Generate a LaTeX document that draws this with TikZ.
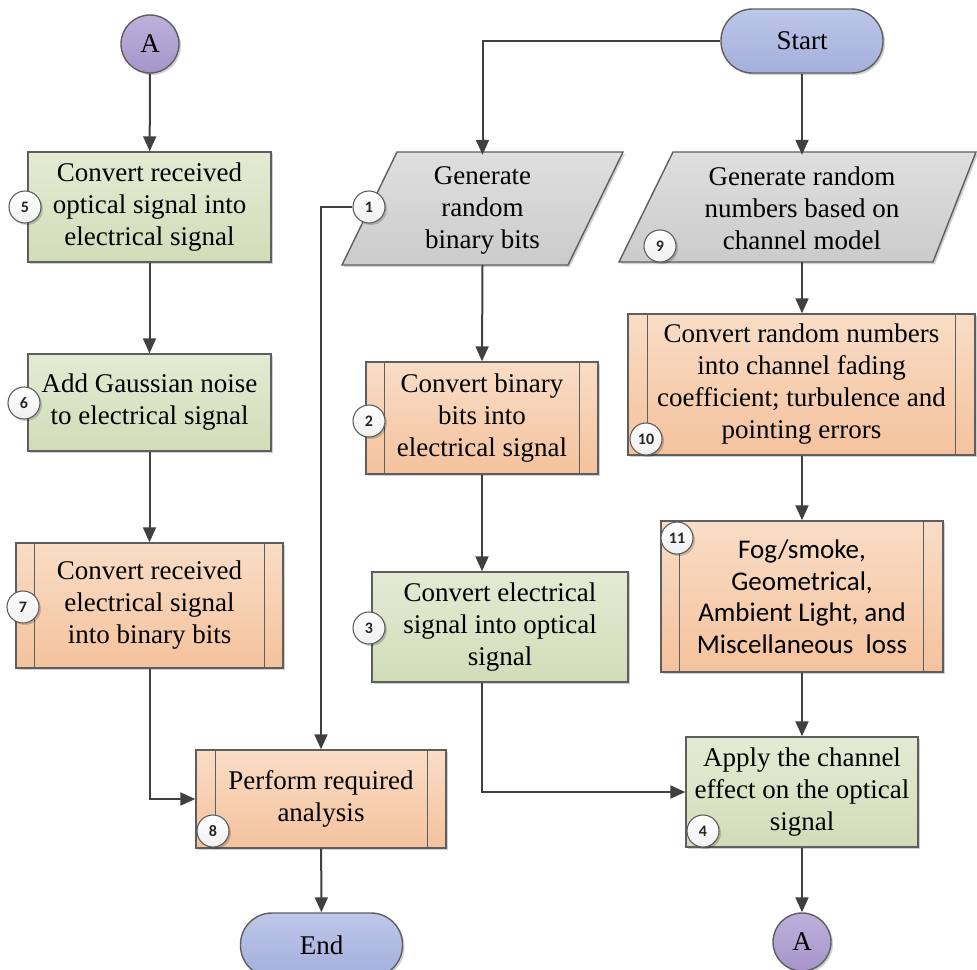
\documentclass[tikz,border=0pt]{standalone}
\usepackage{fontspec}
\setmainfont{Liberation Serif}
\newfontfamily\calfont{Carlito}
\usetikzlibrary{arrows.meta,shadows,calc}
\definecolor{edge}{HTML}{5E5E5E}
\definecolor{conn}{HTML}{404040}
\definecolor{gtop}{HTML}{E5EAD4}
\definecolor{gbot}{HTML}{D2DCB8}
\definecolor{otop}{HTML}{F9DDC6}
\definecolor{obot}{HTML}{F4C29D}
\definecolor{ytop}{HTML}{DFDFDF}
\definecolor{ybot}{HTML}{CBCBCB}
\definecolor{btop}{HTML}{BDC7E9}
\definecolor{bbot}{HTML}{A4AFDC}
\definecolor{ptop}{HTML}{BDB1DB}
\definecolor{pbot}{HTML}{A695CA}
\tikzset{
  shad/.style={drop shadow={shadow xshift=2pt,shadow yshift=-2pt,fill=black,opacity=0.18}},
  txt/.style={font=\fontsize{27}{32}\selectfont, align=center, inner sep=0pt},
  greenbox/.style={txt, rectangle, draw=edge, line width=1.4pt, top color=gtop, bottom color=gbot, shad},
  orangebox/.style={txt, rectangle, draw=edge, line width=1.4pt, top color=otop, bottom color=obot, shad},
  termbox/.style={txt, rectangle, rounded corners=31.5pt, draw=edge, line width=1.4pt, top color=btop, bottom color=bbot, shad, minimum width=162pt, minimum height=64pt},
  connbox/.style={txt, circle, draw=edge, line width=1.4pt, top color=ptop, bottom color=pbot, shad, minimum size=58pt},
  numc/.style={circle, draw=edge, line width=1.1pt, top color=white, bottom color=black!6, minimum size=32pt, inner sep=0pt, font=\calfont\bfseries\fontsize{16}{16}\selectfont, text=black!85, shad},
  arr/.style={draw=conn, line width=2pt, -{Triangle[length=15pt,width=13pt]}},
  sep/.style={draw=edge, line width=1.4pt}
}
\begin{document}
\begin{tikzpicture}[x=1pt,y=-1pt]
\useasboundingbox (0,0) rectangle (977,969);

% terminals and connectors
\node[termbox] (start) at (802,41) {Start};
\node[termbox] (endn) at (321.5,945) {End};
\node[connbox] (aup) at (150,44) {A};
\node[connbox] (adown) at (802,942) {A};

% parallelograms
\path[draw=edge, line width=1.4pt, top color=ytop, bottom color=ybot, shad]
  (397,152) -- (623,152) -- (568,265) -- (342,265) -- cycle;
\node[txt, minimum height=113pt, minimum width=150pt] (p1) at (482.5,210) {Generate\\random\\binary bits};
\path[draw=edge, line width=1.4pt, top color=ytop, bottom color=ybot, shad]
  (673,152) -- (976,152) -- (933,262) -- (619,262) -- cycle;
\node[txt, minimum height=110pt, minimum width=200pt] (p9) at (802,208.5) {Generate random\\numbers based on\\channel model};

% left column
\node[greenbox, minimum width=243pt, minimum height=110pt] (b5) at (149.5,207) {Convert received\\optical signal into\\electrical signal};
\node[greenbox, minimum width=243pt, minimum height=97pt] (b6) at (149.5,402.5) {Add Gaussian noise\\to electrical signal};
\node[orangebox, minimum width=267pt, minimum height=125pt] (b7) at (149.5,605.5) {Convert received\\electrical signal\\into binary bits};
\draw[sep] ([xshift=19pt]b7.north west) -- ([xshift=19pt]b7.south west);
\draw[sep] ([xshift=-19pt]b7.north east) -- ([xshift=-19pt]b7.south east);
\node[orangebox, minimum width=250pt, minimum height=98pt] (b8) at (321,799) {Perform required\\analysis};
\draw[sep] ([xshift=20pt]b8.north west) -- ([xshift=20pt]b8.south west);
\draw[sep] ([xshift=-19pt]b8.north east) -- ([xshift=-19pt]b8.south east);

% middle column
\node[orangebox, minimum width=232pt, minimum height=112pt] (b2) at (482,418) {Convert binary\\bits into\\electrical signal};
\draw[sep] ([xshift=19pt]b2.north west) -- ([xshift=19pt]b2.south west);
\draw[sep] ([xshift=-19pt]b2.north east) -- ([xshift=-19pt]b2.south east);
\node[greenbox, minimum width=256pt, minimum height=110pt] (b3) at (500,627) {Convert electrical\\signal into optical\\signal};

% right column
\node[orangebox, minimum width=347pt, minimum height=141pt] (b10) at (801.5,384.5) {Convert random numbers\\into channel fading\\coefficient; turbulence and\\pointing errors};
\draw[sep] ([xshift=20pt]b10.north west) -- ([xshift=20pt]b10.south west);
\draw[sep] ([xshift=-20pt]b10.north east) -- ([xshift=-20pt]b10.south east);
\node[orangebox, minimum width=282pt, minimum height=151pt, font=\calfont\fontsize{27}{31.5}\selectfont] (b11) at (802,596.5) {Fog/smoke,\\Geometrical,\\Ambient Light, and\\Miscellaneous\ \ loss};
\draw[sep] ([xshift=19pt]b11.north west) -- ([xshift=19pt]b11.south west);
\draw[sep] ([xshift=-20pt]b11.north east) -- ([xshift=-20pt]b11.south east);
\node[greenbox, minimum width=232pt, minimum height=110pt] (b4) at (802,792) {Apply the channel\\effect on the optical\\signal};

% number circles
\node[numc] (n5) at (25,207) {5};
\node[numc] (n6) at (24,403) {6};
\node[numc] (n7) at (23,607) {7};
\node[numc] (n1) at (369,207) {1};
\node[numc] (n2) at (369,421) {2};
\node[numc] (n3) at (369,628) {3};
\node[numc] (n8) at (213,831) {8};
\node[numc] (n4) at (703,831) {4};
\node[numc] (n9) at (660,246) {9};
\node[numc] (n10) at (646,439) {10};
\node[numc] (n11) at (677,538) {11};

% connectors
\draw[arr] (aup) -- (b5);
\draw[arr] (b5) -- (b6);
\draw[arr] (b6) -- (b7);
\draw[arr] (b7.south) |- (b8.west);
\draw[arr] (n1.west) -| (b8.north);
\draw[arr] (b8) -- (endn);
\draw[arr] (start.west) -| ([yshift=-1.5pt]p1.north);
\draw[arr] (start) -- ([yshift=-1.5pt]p9.north);
\draw[arr] ([yshift=1.5pt]p1.south) -- (b2.north);
\draw[arr] (b2.south) -- (b2.south |- b3.north);
\draw[arr] (b3.south -| b2.south) |- (b4.west);
\draw[arr] ([yshift=1.5pt]p9.south) -- (b10.north -| p9.south);
\draw[arr] (b10.south -| b11.north) -- (b11.north);
\draw[arr] (b11) -- (b4);
\draw[arr] (b4) -- (adown);
\end{tikzpicture}
\end{document}
